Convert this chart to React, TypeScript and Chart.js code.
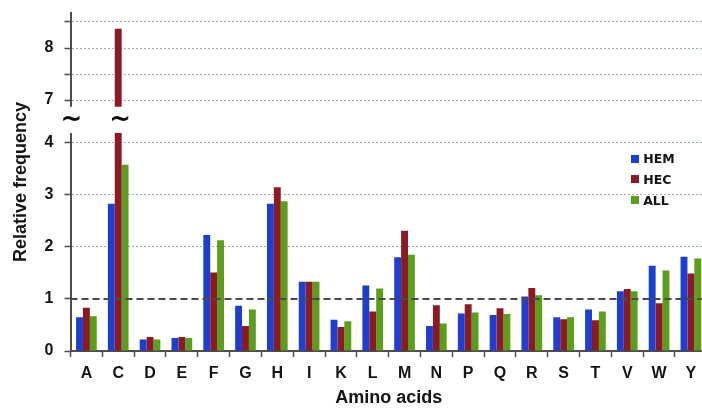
import React, { useEffect, useRef } from 'react';
import { Chart, registerables } from 'chart.js';

Chart.register(...registerables);

// ---- data ----
const categories = ['A', 'C', 'D', 'E', 'F', 'G', 'H', 'I', 'K', 'L', 'M', 'N', 'P', 'Q', 'R', 'S', 'T', 'V', 'W', 'Y'];
const hem = [0.65, 2.83, 0.22, 0.25, 2.23, 0.87, 2.83, 1.33, 0.60, 1.26, 1.80, 0.48, 0.72, 0.69, 1.05, 0.65, 0.80, 1.15, 1.64, 1.81];
const hec = [0.83, 8.37, 0.27, 0.27, 1.51, 0.48, 3.15, 1.33, 0.46, 0.76, 2.31, 0.88, 0.90, 0.82, 1.21, 0.61, 0.59, 1.19, 0.92, 1.49];
const all = [0.67, 3.58, 0.22, 0.25, 2.13, 0.80, 2.88, 1.33, 0.57, 1.20, 1.85, 0.53, 0.74, 0.71, 1.07, 0.65, 0.76, 1.15, 1.55, 1.78];
const seriesNames = ['HEM', 'HEC', 'ALL'];
const seriesColors = ['#1c3fd1', '#8c1a22', '#5b9e1c'];

// broken axis: ticks (labels shown on whole numbers only)
const lowerTicks = [0, 0.5, 1, 1.5, 2, 2.5, 3, 3.5, 4];
const upperTicks = [7, 7.5, 8, 8.5];
const lowerMin = 0;
const lowerMax = 4.19;
const upperMin = 6.365;
const upperMax = 8.673;
const upperVisibleFrom = 6.87;
const referenceLine = 1;

const xTitle = 'Amino acids';
const yTitle = 'Relative frequency';

const axisColor = '#4d4d4d';
const gridColor = 'rgba(120,150,150,0.75)';
const textColor = '#141414';
const tickFont = { family: '"Liberation Sans", Arial, sans-serif', size: 16, weight: 'bold' as const };
const titleFont = { family: '"Liberation Sans", Arial, sans-serif', size: 18, weight: 'bold' as const };

const clipLower = (arr: number[]) => arr.map((v) => Math.min(v, lowerMax));
const upperPart = (arr: number[]) => arr.map((v) => (v > lowerMax ? [upperVisibleFrom, v] : null));
const wholeLabel = (v: any) => (Number.isInteger(v) ? String(v) : '');

const breakPlugin = {
  id: 'axisBreak',
  afterDatasetsDraw(chart: any) {
    const { ctx, chartArea } = chart;
    const yB = chart.scales.yBottom;
    const y = yB.getPixelForValue(referenceLine);
    ctx.save();
    ctx.strokeStyle = '#4a4a4a';
    ctx.lineWidth = 2;
    ctx.setLineDash([7, 4]);
    ctx.beginPath();
    ctx.moveTo(chartArea.left, y);
    ctx.lineTo(chartArea.right, y);
    ctx.stroke();
    ctx.restore();
  },
  afterDraw(chart: any) {
    const { ctx } = chart;
    const yT = chart.scales.yTop;
    const yB = chart.scales.yBottom;
    const gapTop = yT.getPixelForValue(upperVisibleFrom);
    const gapBottom = yB.top;
    const axisX = yB.right;
    ctx.save();
    ctx.fillStyle = '#ffffff';
    ctx.fillRect(axisX - 3, gapTop, 6, gapBottom - gapTop);
    const midY = (gapTop + gapBottom) / 2;
    ctx.fillStyle = '#111111';
    ctx.font = 'bold 26px "DejaVu Sans"';
    ctx.textAlign = 'center';
    ctx.textBaseline = 'middle';
    ctx.fillText('~', axisX + 1, midY);
    chart.data.datasets.forEach((ds: any, di: number) => {
      if (ds.yAxisID !== 'yTop') return;
      const meta = chart.getDatasetMeta(di);
      meta.data.forEach((el: any, i: number) => {
        if (ds.data[i] != null) ctx.fillText('~', el.x + 2, midY);
      });
    });
    ctx.restore();
  },
};

const fixVertical = (s: any) => {
  s.width = 27.5;
  s.paddingTop = 0;
  s.paddingBottom = 0;
};

export default function App() {
  const ref = useRef<HTMLCanvasElement | null>(null);

  useEffect(() => {
    if (!ref.current) return;
    const chart = new Chart(ref.current, {
      type: 'bar',
      data: {
        labels: categories,
        datasets: [
          { label: seriesNames[0], data: clipLower(hem), backgroundColor: seriesColors[0], stack: 'HEM', yAxisID: 'yBottom' },
          { label: seriesNames[1], data: clipLower(hec), backgroundColor: seriesColors[1], stack: 'HEC', yAxisID: 'yBottom' },
          { label: seriesNames[2], data: clipLower(all), backgroundColor: seriesColors[2], stack: 'ALL', yAxisID: 'yBottom' },
          { label: seriesNames[1] + ' (upper)', data: upperPart(hec) as any, backgroundColor: seriesColors[1], stack: 'HEC', yAxisID: 'yTop' },
        ],
      },
      options: {
        responsive: false,
        animation: false,
        categoryPercentage: 0.65,
        barPercentage: 1.0,
        layout: { padding: { left: 8, top: 13, right: 1.2, bottom: 2.2 } },
        plugins: { legend: { display: false }, tooltip: { enabled: false } },
        scales: {
          x: {
            stacked: true,
            grid: { drawOnChartArea: false, drawTicks: true, tickLength: 6, tickColor: axisColor, tickWidth: 1.5 },
            border: { color: axisColor, width: 2 },
            ticks: { font: tickFont, color: textColor, padding: 7.4 },
            title: { display: true, text: xTitle, font: titleFont, color: textColor, padding: { top: -3.8, bottom: 0 } },
          },
          yBottom: {
            axis: 'y',
            type: 'linear',
            position: 'left',
            stack: 'broken',
            stackWeight: lowerMax - lowerMin,
            weight: 1,
            stacked: false,
            beginAtZero: false,
            min: lowerMin,
            max: lowerMax,
            afterBuildTicks: (s: any) => { s.ticks = lowerTicks.map((v) => ({ value: v })); },
            ticks: { font: tickFont, color: textColor, padding: 11, callback: wholeLabel },
            grid: {
              color: (c: any) => (c.tick && (c.tick.value === 0 || c.tick.value === referenceLine) ? 'rgba(0,0,0,0)' : gridColor),
              tickColor: axisColor,
              tickLength: 6,
              tickWidth: 1.5,
              lineWidth: 1,
            },
            border: { color: axisColor, width: 2, dash: [2, 2] },
            afterFit: fixVertical,
          },
          yTop: {
            axis: 'y',
            type: 'linear',
            position: 'left',
            stack: 'broken',
            stackWeight: upperMax - upperMin,
            weight: 2,
            stacked: false,
            beginAtZero: false,
            min: upperMin,
            max: upperMax,
            afterBuildTicks: (s: any) => { s.ticks = upperTicks.map((v) => ({ value: v })); },
            ticks: { font: tickFont, color: textColor, padding: 11, callback: wholeLabel },
            grid: {
              color: gridColor,
              tickColor: axisColor,
              tickLength: 6,
              tickWidth: 1.5,
              lineWidth: 1,
            },
            border: { color: axisColor, width: 2, dash: [2, 2] },
            afterFit: fixVertical,
          },
          yTitle: {
            axis: 'y',
            type: 'linear',
            position: 'left',
            weight: 10,
            beginAtZero: false,
            ticks: { display: false },
            grid: { display: false },
            border: { display: false },
            title: { display: true, text: yTitle, font: titleFont, color: textColor, padding: { top: 2, bottom: 12 } },
            afterFit: (s: any) => { s.width = 35; s.paddingTop = 0; s.paddingBottom = 0; },
          },
        } as any,
      },
      plugins: [breakPlugin],
    });
    return () => chart.destroy();
  }, []);

  return (
    <>
      <div style={{ position: 'fixed', left: 0, top: 0, width: 708, height: 411, background: '#fff' }}>
        <canvas ref={ref} width={708} height={411} style={{ width: 708, height: 411, display: 'block' }} />
      </div>
      <div
        style={{
          position: 'fixed',
          left: 630.7,
          top: 148.3,
          font: 'bold 12.5px "DejaVu Sans", sans-serif',
          color: textColor,
        }}
      >
        {seriesNames.map((n, i) => (
          <div key={n} style={{ display: 'flex', alignItems: 'center', height: 20.7 }}>
            <span style={{ display: 'inline-block', width: 8, height: 8, background: seriesColors[i], marginRight: 4.5 }} />
            <span>{n}</span>
          </div>
        ))}
      </div>
    </>
  );
}
